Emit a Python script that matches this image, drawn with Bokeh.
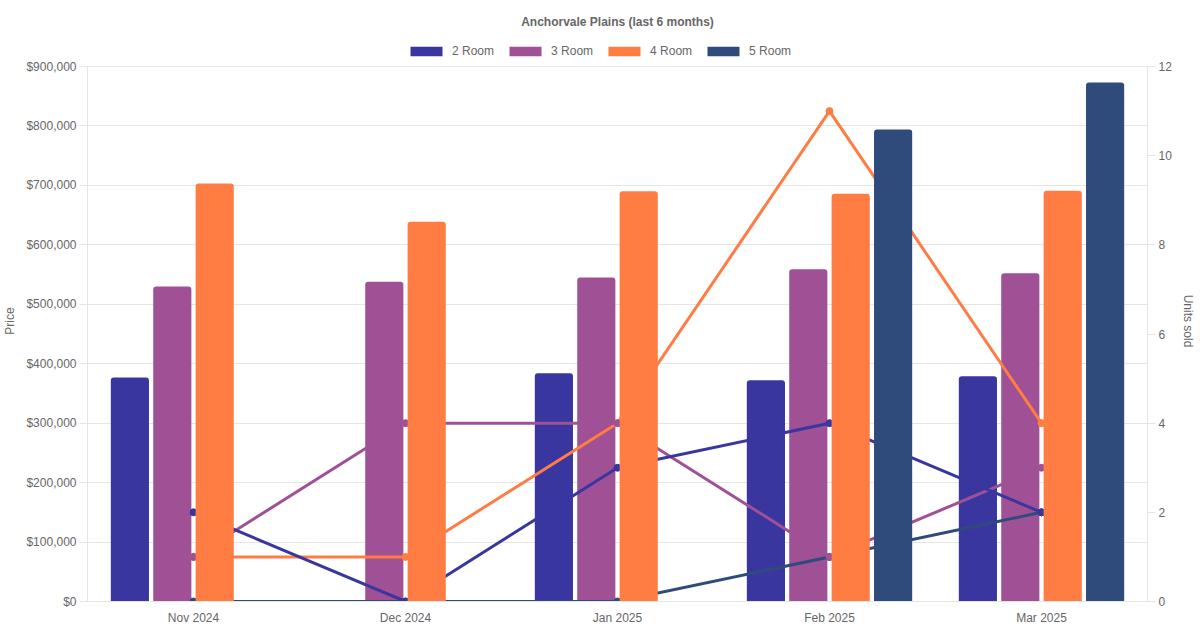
from bokeh.plotting import figure
from bokeh.models import (ColumnDataSource, FactorRange, Range1d, LinearAxis, FixedTicker,
                          NumeralTickFormatter, Legend, LegendItem)
from bokeh.transform import dodge
from bokeh.embed import file_html
from bokeh.resources import INLINE

nan = float("nan")

months = ["Nov 2024", "Dec 2024", "Jan 2025", "Feb 2025", "Mar 2025"]
series_names = ["2 Room", "3 Room", "4 Room", "5 Room"]

price_2room = [377000, nan, 384000, 372000, 379000]
price_3room = [530000, 538000, 545000, 559000, 552000]
price_4room = [703000, 639000, 690000, 686000, 691000]
price_5room = [nan, nan, nan, 794000, 873000]

units_2room = [2, 0, 3, 4, 2]
units_3room = [1, 4, 4, 1, 3]
units_4room = [1, 1, 4, 11, 4]
units_5room = [0, 0, 0, 1, 2]

price_ticks = [0, 100000, 200000, 300000, 400000, 500000, 600000, 700000, 800000, 900000]
units_ticks = [0, 2, 4, 6, 8, 10, 12]
price_max = 900000
units_max = 12

colors = ["#3a36a0", "#a05195", "#ff7c43", "#2f4b7c"]
FONT = "Liberation Sans"
TXT = "#666666"
GRID = "#e5e5e5"

DATA_H = 535          # pixel height of the 0..max data area
HEAD = 26             # room above the data area for the legend
FRAME_H = DATA_H + HEAD
ext = FRAME_H / DATA_H

source = ColumnDataSource(data=dict(
    month=months,
    p2=price_2room, p3=price_3room, p4=price_4room, p5=price_5room,
    u2=units_2room, u3=units_3room, u4=units_4room, u5=units_5room,
))

p = figure(frame_width=1060, frame_height=FRAME_H,
           x_range=FactorRange(factors=months, range_padding=0),
           y_range=Range1d(0, price_max * ext),
           output_backend="svg", toolbar_location=None,
           title="Anchorvale Plains (last 6 months)",
           min_border_left=80, min_border_right=40, min_border_top=32, min_border_bottom=20)
p.extra_y_ranges = {"units": Range1d(0, units_max * ext)}
p.background_fill_color = "white"
p.border_fill_color = "white"
p.outline_line_color = None

price_cols = ["p2", "p3", "p4", "p5"]
unit_cols = ["u2", "u3", "u4", "u5"]
offsets = [-0.3, -0.1, 0.1, 0.3]

bar_renderers = {}


def add_bars(i):
    bar_renderers[i] = p.vbar(x=dodge("month", offsets[i], range=p.x_range), top=price_cols[i],
                              bottom=0, width=0.18, source=source, fill_color=colors[i],
                              line_color=None, border_radius=(3, 3, 0, 0))


# drawing order as in the reference: 2/3-room bars, then lines, then 4/5-room bars
add_bars(0)
add_bars(1)
for i in [3, 2, 1, 0]:
    p.line(x="month", y=unit_cols[i], source=source, y_range_name="units",
           line_color=colors[i], line_width=3)
    p.scatter(x="month", y=unit_cols[i], source=source, y_range_name="units",
              marker="circle", size=7, fill_color=colors[i], line_color=colors[i])
add_bars(2)
add_bars(3)

# y axis (price)
p.yaxis.ticker = FixedTicker(ticks=price_ticks)
p.yaxis.formatter = NumeralTickFormatter(format="$0,0")
p.yaxis.axis_label = "Price"
p.yaxis.bounds = (0, price_max)

right = LinearAxis(y_range_name="units", ticker=FixedTicker(ticks=units_ticks),
                   axis_label="Units sold", bounds=(0, units_max))
p.add_layout(right, "right")

for ax in [p.yaxis[0], right]:
    ax.axis_line_color = GRID
    ax.major_tick_line_color = GRID
    ax.major_tick_out = 8
    ax.major_tick_in = 0
    ax.minor_tick_line_color = None
    ax.major_label_text_font = FONT
    ax.major_label_text_font_size = "12px"
    ax.major_label_text_color = TXT
    ax.major_label_standoff = 3
    ax.axis_label_text_font = FONT
    ax.axis_label_text_font_size = "12px"
    ax.axis_label_text_font_style = "normal"
    ax.axis_label_text_color = TXT
    ax.axis_label_standoff = 6

xa = p.xaxis[0]
xa.axis_line_color = GRID
xa.major_tick_line_color = None
xa.major_tick_out = 0
xa.major_tick_in = 0
xa.minor_tick_line_color = None
xa.major_label_text_font = FONT
xa.major_label_text_font_size = "12px"
xa.major_label_text_color = TXT
xa.major_label_standoff = 9

p.xgrid.grid_line_color = None
p.ygrid.grid_line_color = GRID

p.title.align = "center"
p.title.text_font = FONT
p.title.text_font_size = "12px"
p.title.text_font_style = "bold"
p.title.text_color = TXT
p.title.standoff = 24

legend = Legend(items=[LegendItem(label=series_names[i], renderers=[bar_renderers[i]]) for i in range(4)],
                orientation="horizontal", location=(319, DATA_H + 8),
                glyph_width=40, glyph_height=12, label_height=12,
                label_standoff=6, spacing=11, padding=0, margin=0,
                label_text_font=FONT, label_text_font_size="12px", label_text_color=TXT,
                border_line_color=None, background_fill_alpha=0)
p.add_layout(legend)

open("out.html", "w").write(file_html(p, INLINE))
